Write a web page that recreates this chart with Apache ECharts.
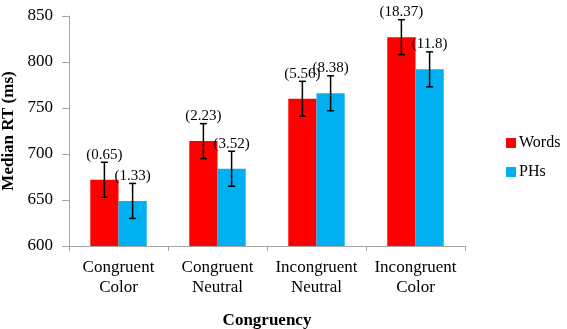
<!DOCTYPE html>
<html>
<head>
<meta charset="utf-8">
<script src="https://cdn.jsdelivr.net/npm/echarts@6/dist/echarts.min.js"></script>
<style>
  html, body { margin: 0; padding: 0; background: #fff; }
  #chart { width: 567px; height: 329px; }
</style>
</head>
<body>
<div id="chart"></div>
<script>
var categories = ['Congruent\nColor', 'Congruent\nNeutral', 'Incongruent\nNeutral', 'Incongruent\nColor'];
var wordsRT = [672, 714, 760, 827];
var phsRT = [649, 684, 766, 792];
// error bar half-length (ms)
var wordsErr = [19, 19, 19, 19];
var phsErr = [19, 19, 19, 19];
// numbers printed above each bar
var wordsNote = ['(0.65)', '(2.23)', '(5.56)', '(18.37)'];
var phsNote = ['(1.33)', '(3.52)', '(8.38)', '(11.8)'];

var chart = echarts.init(document.getElementById('chart'));
var font = 'Liberation Serif';
var gapRatio = 0.43;

function errData(vals, errs, notes) {
  var res = [];
  for (var i = 0; i < vals.length; i++) {
    res.push([i, vals[i] - errs[i], vals[i] + errs[i], notes[i]]);
  }
  return res;
}

function makeErrRender(side) {
  return function (params, api) {
    var band = api.size([1, 0])[0];
    var barW = band * (1 - gapRatio) / 2;
    var lo = api.coord([api.value(0), api.value(1)]);
    var hi = api.coord([api.value(0), api.value(2)]);
    var x = lo[0] + side * barW / 2;
    var cap = 3.5;
    var st = { stroke: '#000', lineWidth: 1.5 };
    return {
      type: 'group',
      children: [
        { type: 'line', shape: { x1: x, y1: lo[1], x2: x, y2: hi[1] }, style: st },
        { type: 'line', shape: { x1: x - cap, y1: lo[1], x2: x + cap, y2: lo[1] }, style: st },
        { type: 'line', shape: { x1: x - cap, y1: hi[1], x2: x + cap, y2: hi[1] }, style: st },
        {
          type: 'text',
          x: x, y: hi[1],
          style: {
            text: api.value(3), fill: '#000', font: '15px "' + font + '"',
            align: 'center', verticalAlign: 'bottom'
          }
        }
      ]
    };
  };
}

var option = {
  animation: false,
  grid: { left: 69, right: 102, top: 16, bottom: 83, outerBoundsMode: 'none', containLabel: false },
  legend: {
    orient: 'vertical',
    left: 501,
    top: 130,
    itemWidth: 10,
    itemHeight: 10,
    itemGap: 13,
    icon: 'rect',
    data: ['Words', 'PHs'],
    textStyle: { fontFamily: font, fontSize: 16, color: '#000', padding: [0, 0, 0, -2] }
  },
  xAxis: {
    type: 'category',
    data: categories,
    name: 'Congruency',
    nameLocation: 'middle',
    nameGap: 66,
    nameMoveOverlap: false,
    nameTextStyle: { fontFamily: font, fontSize: 17, fontWeight: 'bold', color: '#000' },
    axisLine: { lineStyle: { color: '#a6a6a6', width: 1 } },
    axisTick: { show: true, interval: 0, length: 5, lineStyle: { color: '#a6a6a6' } },
    axisLabel: { interval: 0, fontFamily: font, fontSize: 17, color: '#000', lineHeight: 20, margin: 12 }
  },
  yAxis: {
    type: 'value',
    min: 600,
    max: 850,
    interval: 50,
    name: 'Median RT (ms)',
    nameLocation: 'middle',
    nameGap: 52,
    nameMoveOverlap: false,
    nameTextStyle: { fontFamily: font, fontSize: 17, fontWeight: 'bold', color: '#000' },
    axisLine: { show: true, lineStyle: { color: '#a6a6a6', width: 1 } },
    axisTick: { show: true, length: 7, lineStyle: { color: '#a6a6a6' } },
    axisLabel: { fontFamily: font, fontSize: 17, color: '#000', margin: 16 },
    splitLine: { show: false }
  },
  series: [
    {
      name: 'Words', type: 'bar', data: wordsRT,
      barGap: '0%', barCategoryGap: '43%',
      itemStyle: { color: '#ff0000' }
    },
    {
      name: 'PHs', type: 'bar', data: phsRT,
      barGap: '0%', barCategoryGap: '43%',
      itemStyle: { color: '#00b0f0' }
    },
    {
      type: 'custom', renderItem: makeErrRender(-1),
      data: errData(wordsRT, wordsErr, wordsNote),
      encode: { x: 0, y: [1, 2] }, silent: true, z: 5
    },
    {
      type: 'custom', renderItem: makeErrRender(1),
      data: errData(phsRT, phsErr, phsNote),
      encode: { x: 0, y: [1, 2] }, silent: true, z: 5
    }
  ]
};
chart.setOption(option);
</script>
</body>
</html>
